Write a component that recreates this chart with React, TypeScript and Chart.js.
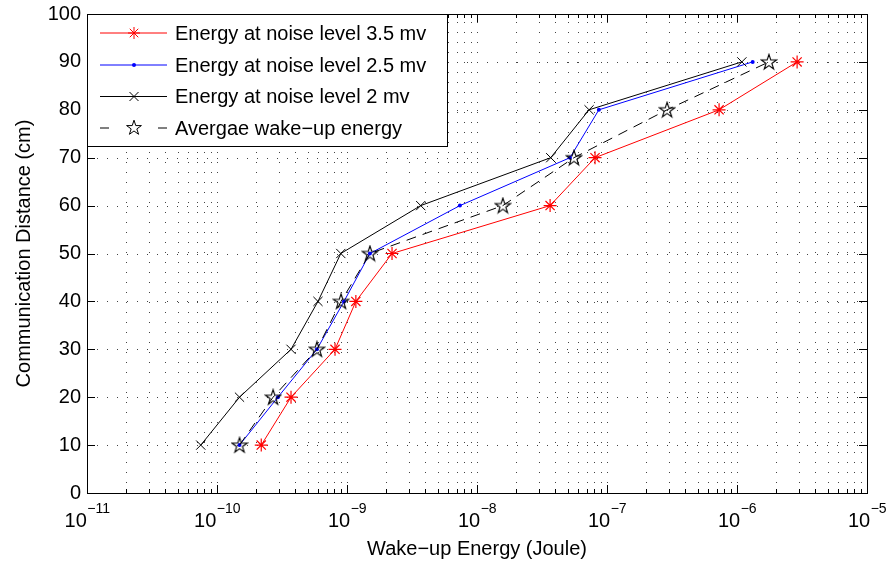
import React, { useEffect, useRef } from "react";
import { Chart, registerables } from "chart.js";

Chart.register(...registerables);

// ---- data ----
const distances = [10, 20, 30, 40, 50, 60, 70, 80, 90];
const energy35 = [2.19e-10, 3.71e-10, 8.09e-10, 1.17e-9, 2.22e-9, 3.65e-8, 8.09e-8, 7.28e-7, 2.9e-6];
const energy25 = [1.49e-10, 2.94e-10, 5.87e-10, 9.48e-10, 1.5e-9, 7.39e-9, 5.19e-8, 8.66e-8, 1.32e-6];
const energy2 = [7.5e-11, 1.49e-10, 3.71e-10, 5.98e-10, 8.96e-10, 3.69e-9, 3.69e-8, 7.28e-8, 1.09e-6];
const energyAvg = [1.49e-10, 2.7e-10, 5.87e-10, 9.0e-10, 1.5e-9, 1.58e-8, 5.57e-8, 2.9e-7, 1.76e-6];
const seriesLabels = [
  "Energy at noise level 3.5 mv",
  "Energy at noise level 2.5 mv",
  "Energy at noise level 2 mv",
  "Avergae wake\u2212up energy",
];
const xDecades = [-11, -10, -9, -8, -7, -6, -5];
const yTickValues = [0, 10, 20, 30, 40, 50, 60, 70, 80, 90, 100];
const xTitle = "Wake\u2212up Energy (Joule)";
const yTitle = "Communication Distance (cm)";

const FONT = "'Liberation Sans', Arial, Helvetica, sans-serif";

function drawPentagram(ctx: CanvasRenderingContext2D, cx: number, cy: number, R: number) {
  const r = R * 0.382;
  ctx.beginPath();
  for (let i = 0; i < 10; i++) {
    const rad = i % 2 === 0 ? R : r;
    const a = -Math.PI / 2 + (i * Math.PI) / 5;
    const px = cx + rad * Math.cos(a);
    const py = cy + rad * Math.sin(a);
    if (i === 0) ctx.moveTo(px, py);
    else ctx.lineTo(px, py);
  }
  ctx.closePath();
  ctx.stroke();
}

function makeStarImage(): HTMLCanvasElement {
  const c = document.createElement("canvas");
  c.width = 18;
  c.height = 18;
  const g = c.getContext("2d")!;
  g.strokeStyle = "#000";
  g.lineWidth = 1.1;
  drawPentagram(g, 9, 9.5, 8);
  return c;
}

function drawAsterisk(ctx: CanvasRenderingContext2D, cx: number, cy: number, r: number) {
  ctx.beginPath();
  ctx.moveTo(cx - r, cy);
  ctx.lineTo(cx + r, cy);
  ctx.moveTo(cx, cy - r);
  ctx.lineTo(cx, cy + r);
  const d = r * 0.7071;
  ctx.moveTo(cx - d, cy - d);
  ctx.lineTo(cx + d, cy + d);
  ctx.moveTo(cx - d, cy + d);
  ctx.lineTo(cx + d, cy - d);
  ctx.stroke();
}

function drawX(ctx: CanvasRenderingContext2D, cx: number, cy: number, r: number) {
  ctx.beginPath();
  ctx.moveTo(cx - r, cy - r);
  ctx.lineTo(cx + r, cy + r);
  ctx.moveTo(cx - r, cy + r);
  ctx.lineTo(cx + r, cy - r);
  ctx.stroke();
}

function xTickList(): { v: number; major: boolean }[] {
  const out: { v: number; major: boolean }[] = [];
  for (let e = xDecades[0]; e < xDecades[xDecades.length - 1]; e++) {
    for (let m = 1; m <= 9; m++) out.push({ v: m * Math.pow(10, e), major: m === 1 });
  }
  out.push({ v: Math.pow(10, xDecades[xDecades.length - 1]), major: true });
  return out;
}

const decorPlugin = {
  id: "decor",
  beforeDatasetsDraw(chart: any) {
    const { ctx, chartArea: a, scales } = chart;
    const xs = scales.x;
    const ys = scales.y;
    ctx.save();
    // dotted grid
    ctx.strokeStyle = "#444";
    ctx.lineWidth = 1;
    ctx.setLineDash([1, 9]);
    for (const t of xTickList()) {
      const px = Math.round(xs.getPixelForValue(t.v)) + 0.5;
      if (px <= a.left + 1 || px >= a.right - 1) continue;
      ctx.beginPath();
      ctx.moveTo(px, a.bottom);
      ctx.lineTo(px, a.top);
      ctx.stroke();
    }
    for (const v of yTickValues) {
      const py = Math.round(ys.getPixelForValue(v)) + 0.5;
      if (py <= a.top + 1 || py >= a.bottom - 1) continue;
      ctx.beginPath();
      ctx.moveTo(a.left, py);
      ctx.lineTo(a.right, py);
      ctx.stroke();
    }
    ctx.setLineDash([]);
    // inner ticks
    ctx.strokeStyle = "#000";
    for (const t of xTickList()) {
      const px = Math.round(xs.getPixelForValue(t.v)) + 0.5;
      const len = t.major ? 8 : 4;
      ctx.beginPath();
      ctx.moveTo(px, a.bottom);
      ctx.lineTo(px, a.bottom - len);
      ctx.moveTo(px, a.top);
      ctx.lineTo(px, a.top + len);
      ctx.stroke();
    }
    for (const v of yTickValues) {
      const py = Math.round(ys.getPixelForValue(v)) + 0.5;
      ctx.beginPath();
      ctx.moveTo(a.left, py);
      ctx.lineTo(a.left + 8, py);
      ctx.moveTo(a.right, py);
      ctx.lineTo(a.right - 8, py);
      ctx.stroke();
    }
    ctx.restore();
  },
  afterDraw(chart: any) {
    const { ctx, chartArea: a, scales } = chart;
    const xs = scales.x;
    ctx.save();
    // frame
    ctx.strokeStyle = "#000";
    ctx.lineWidth = 1;
    ctx.strokeRect(Math.round(a.left) + 0.5, Math.round(a.top) + 0.5, Math.round(a.right - a.left), Math.round(a.bottom - a.top));

    // x tick labels 10^e
    ctx.fillStyle = "#000";
    ctx.textBaseline = "alphabetic";
    ctx.textAlign = "left";
    for (const e of xDecades) {
      const px = xs.getPixelForValue(Math.pow(10, e));
      ctx.font = `20px ${FONT}`;
      const wb = ctx.measureText("10").width;
      const expText = "\u2212" + String(Math.abs(e));
      ctx.font = `14px ${FONT}`;
      const we = ctx.measureText(expText).width;
      const x0 = px - (wb + we) / 2;
      ctx.font = `20px ${FONT}`;
      ctx.fillText("10", x0, a.bottom + 34);
      ctx.font = `14px ${FONT}`;
      ctx.fillText(expText, x0 + wb + 0.5, a.bottom + 20);
    }

    // legend
    const lx = Math.round(a.left) + 0.5;
    const ly = Math.round(a.top) + 0.5;
    const lw = 360;
    const lh = 132;
    ctx.fillStyle = "#fff";
    ctx.fillRect(lx, ly, lw, lh);
    ctx.strokeStyle = "#000";
    ctx.lineWidth = 1;
    ctx.strokeRect(lx, ly, lw, lh);
    const rows = [33, 65, 96.5, 128];
    const sx0 = a.left + 13;
    const sx1 = a.left + 80;
    const mx = a.left + 47;
    const tx = a.left + 88;
    const colors = ["#ff0000", "#0000ff", "#000000", "#000000"];
    for (let i = 0; i < 4; i++) {
      const yy = rows[i];
      ctx.strokeStyle = colors[i];
      ctx.fillStyle = colors[i];
      ctx.lineWidth = 1;
      ctx.beginPath();
      if (i < 3) {
        ctx.moveTo(sx0, yy);
        ctx.lineTo(sx1, yy);
      } else {
        ctx.moveTo(sx0, yy);
        ctx.lineTo(sx0 + 9, yy);
        ctx.moveTo(sx1 - 9, yy);
        ctx.lineTo(sx1, yy);
      }
      ctx.stroke();
      if (i === 0) drawAsterisk(ctx, mx, yy, 6);
      if (i === 1) {
        ctx.beginPath();
        ctx.arc(mx, yy, 2, 0, Math.PI * 2);
        ctx.fill();
      }
      if (i === 2) drawX(ctx, mx, yy, 4.5);
      if (i === 3) drawPentagram(ctx, mx, yy, 7.8);
      ctx.fillStyle = "#000";
      ctx.font = `20px ${FONT}`;
      ctx.textBaseline = "middle";
      ctx.textAlign = "left";
      ctx.fillText(seriesLabels[i], tx, yy + 1);
    }
    ctx.restore();
  },
};

export default function App() {
  const ref = useRef<HTMLCanvasElement | null>(null);
  useEffect(() => {
    document.body.style.margin = "0";
    const canvas = ref.current!;
    const starImg = makeStarImage();
    const mk = (vals: number[]) => vals.map((v, i) => ({ x: v, y: distances[i] }));
    const chart = new Chart(canvas, {
      type: "line",
      data: {
        datasets: [
          {
            label: seriesLabels[0],
            data: mk(energy35),
            borderColor: "#ff0000",
            backgroundColor: "#ff0000",
            borderWidth: 1,
            pointStyle: "star",
            pointRadius: 6.5,
            pointBorderWidth: 1.2,
            pointBorderColor: "#ff0000",
            order: 4,
          },
          {
            label: seriesLabels[1],
            data: mk(energy25),
            borderColor: "#0000ff",
            backgroundColor: "#0000ff",
            borderWidth: 1,
            pointStyle: "circle",
            pointRadius: 2,
            pointBorderWidth: 0,
            order: 3,
          },
          {
            label: seriesLabels[2],
            data: mk(energy2),
            borderColor: "#000000",
            backgroundColor: "#000000",
            borderWidth: 1,
            pointStyle: "crossRot",
            pointRadius: 6.5,
            pointBorderWidth: 1,
            order: 2,
          },
          {
            label: seriesLabels[3],
            data: mk(energyAvg),
            borderColor: "#000000",
            backgroundColor: "#000000",
            borderWidth: 1,
            borderDash: [10, 7],
            pointStyle: starImg as any,
            pointRadius: 8,
            order: 1,
          },
        ],
      },
      options: {
        responsive: false,
        animation: false,
        events: [],
        layout: { padding: { top: 14, right: 22, left: 0, bottom: 0 } },
        plugins: { legend: { display: false }, tooltip: { enabled: false } },
        elements: { line: { tension: 0 } },
        scales: {
          x: {
            type: "logarithmic",
            min: Math.pow(10, xDecades[0]),
            max: Math.pow(10, xDecades[xDecades.length - 1]),
            grid: { display: false },
            border: { display: false },
            ticks: { display: false },
            title: {
              display: true,
              text: xTitle,
              color: "#000",
              font: { family: FONT, size: 20 },
              padding: { top: 0, bottom: 2 },
            },
            afterFit: (s: any) => {
              s.height = 70;
              s.paddingLeft = 0;
              s.paddingRight = 0;
            },
          },
          y: {
            type: "linear",
            min: 0,
            max: 100,
            grid: { display: false, drawTicks: false },
            border: { display: false },
            afterBuildTicks: (s: any) => {
              s.ticks = yTickValues.map((v) => ({ value: v }));
            },
            ticks: {
              color: "#000",
              font: { family: FONT, size: 20 },
              padding: 6,
            },
            title: {
              display: true,
              text: yTitle,
              color: "#000",
              font: { family: FONT, size: 20 },
              padding: { top: 12, bottom: 0 },
            },
            afterFit: (s: any) => {
              s.width = 87;
              s.paddingTop = 0;
              s.paddingBottom = 0;
            },
          },
        },
      },
      plugins: [decorPlugin],
    } as any);
    return () => chart.destroy();
  }, []);
  return (
    <div style={{ width: 889, height: 563 }}>
      <canvas ref={ref} width={889} height={563} style={{ display: "block" }} />
    </div>
  );
}
